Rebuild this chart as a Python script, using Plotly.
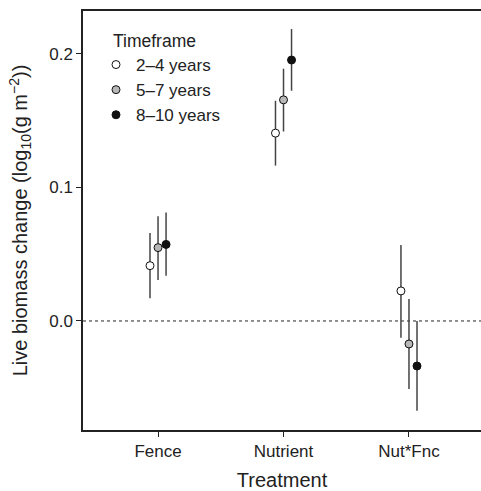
import plotly.graph_objects as go

treatments = ["Fence", "Nutrient", "Nut*Fnc"]
timeframes = ["2–4 years", "5–7 years", "8–10 years"]
# estimates and CI bounds per timeframe, per treatment
means = [
    [0.0414, 0.1406, 0.0225],
    [0.0549, 0.1655, -0.0172],
    [0.0573, 0.1953, -0.0337],
]
upper = [
    [0.0659, 0.1648, 0.0569],
    [0.0784, 0.1888, 0.0165],
    [0.0811, 0.2185, 0.0000],
]
lower = [
    [0.0170, 0.1163, -0.0125],
    [0.0307, 0.1418, -0.0509],
    [0.0339, 0.1723, -0.0672],
]
fills = ["#ffffff", "#b8b8b8", "#111111"]
offsets = [-0.064, 0.0, 0.064]

FONT = "Liberation Sans, Arial, sans-serif"
fig = go.Figure()
for i, tf in enumerate(timeframes):
    xs = [j + 1 + offsets[i] for j in range(len(treatments))]
    fig.add_trace(go.Scatter(
        x=xs, y=means[i], mode="markers", name=tf,
        marker=dict(size=8, color=fills[i], line=dict(color="#111111", width=1)),
        error_y=dict(type="data", symmetric=False,
                     array=[u - m for u, m in zip(upper[i], means[i])],
                     arrayminus=[m - l for m, l in zip(means[i], lower[i])],
                     color="#444444", thickness=1.5, width=0),
    ))

fig.add_shape(type="line", xref="paper", x0=0, x1=1, yref="y", y0=0, y1=0,
              line=dict(color="#222222", width=1, dash="dot"), layer="below")

fig.add_annotation(text="Timeframe", xref="paper", yref="paper",
                   x=(111 - 83) / 398, y=(430 - 41) / 419, xanchor="left", yanchor="middle",
                   showarrow=False, font=dict(size=17.5, color="#222222"))

fig.update_layout(
    width=481, height=491,
    margin=dict(l=83, r=0, t=11, b=61),
    paper_bgcolor="white", plot_bgcolor="white",
    font=dict(family=FONT, size=17, color="#222222"),
    showlegend=True,
    legend=dict(x=(96 - 83) / 398, y=(430 - 47) / 419, xanchor="left", yanchor="top",
                font=dict(size=17), bgcolor="rgba(0,0,0,0)",
                itemsizing="trace", itemwidth=30, tracegroupgap=0),
    xaxis=dict(range=[0.402, 3.574], tickmode="array", tickvals=[1, 2, 3],
               ticktext=treatments, showline=True, mirror=True, linecolor="#222222",
               linewidth=1.5, ticks="outside", ticklen=5, tickcolor="#222222",
               showgrid=False, zeroline=False,
               title=dict(text="Treatment", standoff=14)),
    yaxis=dict(range=[-0.0816, 0.232], tickvals=[0, 0.1, 0.2],
               ticktext=["0.0", "0.1", "0.2"], showline=True, linecolor="#222222",
               linewidth=1.5, ticks="outside", ticklen=5, tickcolor="#222222",
               showgrid=False, zeroline=False,
               title=dict(text="Live biomass change (log<sub>10</sub>(g m<sup>−2</sup>))",
                          standoff=16)),
)

fig.write_html("out.html", config={"displayModeBar": False},
               post_script="document.body.style.margin='0';document.body.style.padding='0';")
